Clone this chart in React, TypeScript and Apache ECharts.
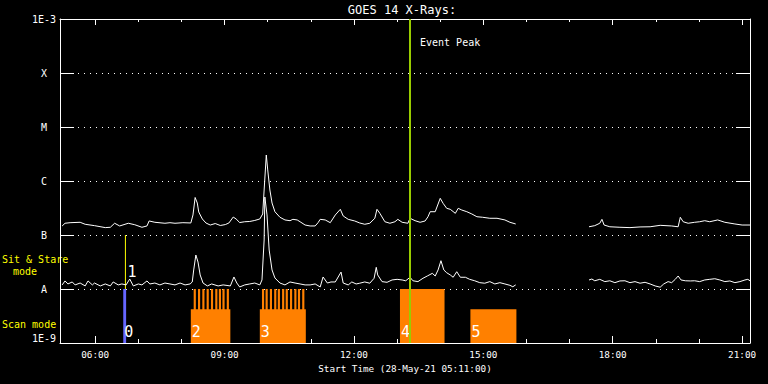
import React, { useEffect, useRef } from 'react';
import * as echarts from 'echarts';

const toH = (s: string): number => {
  const [h, m] = s.split(':').map(Number);
  return h + m / 60;
};

const TITLE = 'GOES 14 X-Rays:';
const X_NAME = 'Start Time (28-May-21 05:11:00)';
const X_MIN = '05:11';
const X_MAX = '21:11';
const MAJOR_HOURS = ['06:00', '09:00', '12:00', '15:00', '18:00', '21:00'];
const MINOR_HOURS = ['07:00', '08:00', '10:00', '11:00', '13:00', '14:00', '16:00', '17:00', '19:00', '20:00'];
const Y_MIN = 1e-9;
const Y_MAX = 1e-3;
const Y_EXPONENTS = [-9, -8, -7, -6, -5, -4, -3];
const Y_TICK_LABELS = ['1E-9', 'A', 'B', 'C', 'M', 'X', '1E-3'];

// GOES long channel (1-8 A)
const LONG_TIMES = ['05:14','05:18','05:25','05:39','05:46','05:59','06:14','06:21','06:27','06:34','06:46','06:55','07:05','07:12','07:15','07:23','07:37','07:44','07:51','08:02','08:13','08:16','08:19','08:22','08:24','08:29','08:34','08:40','08:47','08:54','09:01','09:06','09:12','09:16','09:21','09:28','09:35','09:42','09:49','09:53','09:55','09:58','10:00','10:03','10:06','10:10','10:17','10:24','10:31','10:35','10:41','10:45','10:52','10:59','11:06','11:10','11:13','11:20','11:27','11:34','11:41','11:45','11:52','12:01','12:08','12:15','12:22','12:29','12:32','12:36','12:43','12:50','12:57','13:01','13:07','13:15','13:18','13:25','13:32','13:39','13:43','13:46','13:53','14:00','14:04','14:09','14:14','14:21','14:25','14:30','14:37','14:44','14:51','14:59','15:09','15:19','15:30','15:37','15:45','16:30','17:27','17:35','17:42','17:45','17:48','17:56','18:10','18:24','18:38','18:52','19:06','19:22','19:31','19:34','19:38','19:45','19:54','20:01','20:08','20:15','20:26','20:36','20:50','21:00','21:11'];
const LONG_FLUX = [1.47e-7,1.65e-7,1.69e-7,1.72e-7,1.58e-7,1.49e-7,1.37e-7,1.39e-7,1.65e-7,1.47e-7,1.65e-7,1.55e-7,1.39e-7,1.47e-7,1.82e-7,1.72e-7,1.65e-7,1.69e-7,1.65e-7,1.69e-7,1.67e-7,2.35e-7,4.95e-7,3.91e-7,2.67e-7,1.98e-7,1.67e-7,1.53e-7,1.63e-7,1.50e-7,1.56e-7,1.67e-7,2.15e-7,1.98e-7,1.70e-7,1.76e-7,1.78e-7,1.86e-7,1.98e-7,2.45e-7,6.81e-7,3.03e-6,1.60e-6,6.81e-7,3.91e-7,2.70e-7,2.13e-7,1.90e-7,1.84e-7,1.95e-7,1.90e-7,1.76e-7,1.53e-7,1.47e-7,1.47e-7,1.69e-7,1.95e-7,1.90e-7,1.69e-7,2.35e-7,2.99e-7,2.25e-7,1.95e-7,1.82e-7,1.67e-7,1.58e-7,1.65e-7,2.04e-7,2.99e-7,2.52e-7,1.76e-7,1.65e-7,1.76e-7,1.95e-7,1.72e-7,1.65e-7,2.04e-7,1.84e-7,1.72e-7,1.82e-7,2.18e-7,2.70e-7,2.70e-7,4.78e-7,3.86e-7,3.12e-7,2.99e-7,2.52e-7,3.12e-7,2.90e-7,2.70e-7,2.45e-7,2.18e-7,2.13e-7,2.04e-7,2.04e-7,1.90e-7,1.72e-7,1.60e-7,null,1.42e-7,1.49e-7,1.65e-7,1.95e-7,1.53e-7,1.42e-7,1.39e-7,1.37e-7,1.41e-7,1.42e-7,1.51e-7,1.47e-7,1.42e-7,2.13e-7,1.76e-7,1.65e-7,1.72e-7,1.76e-7,1.84e-7,1.76e-7,1.90e-7,1.72e-7,1.60e-7,1.53e-7,1.53e-7];

// GOES short channel (0.5-4 A)
const SHORT_TIMES = ['05:14','05:18','05:22','05:28','05:32','05:39','05:46','05:50','05:56','05:59','06:07','06:14','06:21','06:25','06:32','06:37','06:43','06:48','06:53','07:00','07:05','07:12','07:16','07:23','07:30','07:37','07:44','07:51','07:58','08:05','08:12','08:15','08:17','08:20','08:23','08:26','08:30','08:36','08:42','08:51','08:58','09:08','09:13','09:17','09:21','09:28','09:35','09:42','09:49','09:52','09:55','09:56','09:59','10:02','10:06','10:10','10:17','10:24','10:31','10:38','10:45','10:52','10:59','11:06','11:13','11:17','11:23','11:28','11:34','11:42','11:45','11:52','11:57','12:03','12:08','12:15','12:22','12:28','12:31','12:33','12:39','12:46','12:53','13:00','13:07','13:12','13:18','13:22','13:29','13:36','13:42','13:49','13:53','13:57','14:01','14:05','14:09','14:14','14:18','14:23','14:28','14:35','14:41','14:48','14:55','15:02','15:09','15:16','15:23','15:30','15:37','15:41','15:45','16:30','17:27','17:31','17:35','17:42','17:49','17:56','18:03','18:10','18:17','18:24','18:31','18:38','18:45','18:52','18:59','19:06','19:11','19:17','19:22','19:27','19:31','19:35','19:41','19:48','19:54','20:01','20:08','20:15','20:22','20:29','20:36','20:43','20:50','20:57','21:04','21:08','21:11'];
const SHORT_FLUX = [1.19e-8,1.41e-8,1.24e-8,1.35e-8,1.19e-8,1.29e-8,1.14e-8,1.41e-8,1.19e-8,1.29e-8,1.14e-8,1.24e-8,1.14e-8,1.35e-8,1.19e-8,1.24e-8,1.19e-8,1.53e-8,1.14e-8,1.24e-8,1.19e-8,1.41e-8,1.24e-8,1.29e-8,1.19e-8,1.29e-8,1.24e-8,1.19e-8,1.29e-8,1.19e-8,1.24e-8,1.35e-8,2.25e-8,4.26e-8,3.16e-8,1.82e-8,1.29e-8,1.14e-8,1.24e-8,1.14e-8,1.19e-8,1.14e-8,1.67e-8,1.29e-8,1.09e-8,1.19e-8,1.24e-8,1.29e-8,1.19e-8,1.47e-8,8.08e-8,5.05e-7,2.35e-7,5.27e-8,2.25e-8,1.60e-8,1.29e-8,1.19e-8,1.35e-8,1.29e-8,1.24e-8,1.19e-8,1.19e-8,1.24e-8,1.09e-8,1.67e-8,1.29e-8,1.35e-8,1.35e-8,2.06e-8,1.29e-8,1.19e-8,1.35e-8,1.24e-8,1.28e-8,1.35e-8,1.28e-8,1.58e-8,2.52e-8,1.82e-8,1.37e-8,1.33e-8,1.47e-8,1.51e-8,1.47e-8,1.42e-8,1.65e-8,1.42e-8,1.37e-8,1.58e-8,1.74e-8,1.95e-8,1.74e-8,2.25e-8,3.34e-8,2.25e-8,2.00e-8,1.82e-8,1.65e-8,2.09e-8,1.65e-8,1.65e-8,1.51e-8,1.42e-8,1.31e-8,1.28e-8,1.37e-8,1.24e-8,1.31e-8,1.24e-8,1.17e-8,1.10e-8,1.19e-8,null,1.47e-8,1.53e-8,1.42e-8,1.51e-8,1.37e-8,1.42e-8,1.31e-8,1.41e-8,1.42e-8,1.31e-8,1.37e-8,1.28e-8,1.33e-8,1.24e-8,1.14e-8,1.08e-8,1.24e-8,1.37e-8,1.31e-8,1.51e-8,1.74e-8,1.47e-8,1.42e-8,1.41e-8,1.42e-8,1.37e-8,1.47e-8,1.51e-8,1.55e-8,1.47e-8,1.37e-8,1.41e-8,1.31e-8,1.37e-8,1.47e-8,1.51e-8,1.42e-8];

// Observation modes
const SCAN_LABELS = ['2', '3', '4', '5'];
const SCAN_START = ['08:13', '09:49', '13:04', '14:42'];
const SCAN_END = ['09:08', '10:53', '14:06', '15:46'];
const SCAN_TOP = [4.2e-9, 4.2e-9, 1e-8, 4.2e-9];
const RASTER_STARTS = ['08:17','08:23','08:29','08:35','08:41','08:47','08:52','08:57','09:03','09:52','09:57','10:03','10:09','10:14','10:20','10:25','10:31','10:37','10:42','10:48'];
const RASTER_MINUTES = 3;
const RASTER_TOP = 1e-8;
const STARE_LABELS = ['0', '1'];
const STARE_START = ['06:39', '06:42'];
const STARE_END = ['06:43', '06:42'];
const STARE_BOTTOM = [1e-9, 1e-8];
const STARE_TOP = [1e-8, 1e-7];
const EVENT_PEAK = '13:18';

const MONO = '"DejaVu Sans Mono", monospace';
const ORANGE = '#ff8000';

export default function App() {
  const ref = useRef<HTMLDivElement>(null);
  useEffect(() => {
    if (!ref.current) return;
    const chart = echarts.init(ref.current, null, { renderer: 'svg' });
    const xMin = toH(X_MIN);
    const xMax = toH(X_MAX);
    const majors = MAJOR_HOURS.map(toH);
    const minors = MINOR_HOURS.map(toH);
    const longData = LONG_TIMES.map((t, i) => [toH(t), LONG_FLUX[i] === null ? '-' : LONG_FLUX[i]]);
    const shortData = SHORT_TIMES.map((t, i) => [toH(t), SHORT_FLUX[i] === null ? '-' : SHORT_FLUX[i]]);
    const scanData = SCAN_START.map((s, i) => [toH(s), toH(SCAN_END[i]), Y_MIN, SCAN_TOP[i], i]);
    const rasterData = RASTER_STARTS.map((s) => [toH(s), toH(s) + RASTER_MINUTES / 60, Y_MIN, RASTER_TOP]);
    const stareData = STARE_START.map((s, i) => [toH(s), toH(STARE_END[i]), STARE_BOTTOM[i], STARE_TOP[i], i]);

    const baseX = { type: 'value', min: xMin, max: xMax, gridIndex: 0, splitLine: { show: false } };
    const labelFor = (v: number) => {
      const e = Math.round(Math.log10(v));
      const i = Y_EXPONENTS.indexOf(e);
      return i >= 0 ? Y_TICK_LABELS[i] : '';
    };
    const option: any = {
      animation: false,
      backgroundColor: '#000',
      grid: { left: 60, right: 18, top: 19, bottom: 41 },
      graphic: [
        { type: 'text', x: 402, y: 10, style: { text: TITLE, fill: '#fff', font: `12px ${MONO}`, align: 'center', verticalAlign: 'middle' } },
        { type: 'text', x: 420, y: 42.5, style: { text: 'Event Peak', fill: '#fff', font: `10px ${MONO}`, align: 'left', verticalAlign: 'middle' } },
        { type: 'text', x: 2, y: 259, style: { text: 'Sit & Stare', fill: '#ffff00', font: `10px ${MONO}`, align: 'left', verticalAlign: 'middle' } },
        { type: 'text', x: 13, y: 271, style: { text: 'mode', fill: '#ffff00', font: `10px ${MONO}`, align: 'left', verticalAlign: 'middle' } },
        { type: 'text', x: 2, y: 324, style: { text: 'Scan mode', fill: '#ffff00', font: `10px ${MONO}`, align: 'left', verticalAlign: 'middle' } },
      ],
      xAxis: [
        {
          ...baseX, position: 'bottom',
          axisLine: { show: true, lineStyle: { color: '#fff', width: 1 } },
          axisTick: { show: true, inside: true, length: 7, customValues: majors, lineStyle: { color: '#fff' } },
          axisLabel: { show: true, customValues: majors, color: '#fff', fontFamily: MONO, fontSize: 9.3, margin: 7,
            formatter: (v: number) => `${String(Math.round(v)).padStart(2, '0')}:00` },
          name: X_NAME, nameLocation: 'middle', nameGap: 19,
          nameTextStyle: { color: '#fff', fontFamily: MONO, fontSize: 9.3 },
        },
        {
          ...baseX, position: 'bottom',
          axisLine: { show: false },
          axisTick: { show: true, inside: true, length: 4, customValues: minors, lineStyle: { color: '#fff' } },
          axisLabel: { show: false },
        },
        {
          ...baseX, position: 'top',
          axisLine: { show: true, lineStyle: { color: '#fff', width: 1 } },
          axisTick: { show: true, inside: true, length: 6, customValues: majors, lineStyle: { color: '#fff' } },
          axisLabel: { show: false },
        },
        {
          ...baseX, position: 'top',
          axisLine: { show: false },
          axisTick: { show: true, inside: true, length: 3, customValues: minors, lineStyle: { color: '#fff' } },
          axisLabel: { show: false },
        },
      ],
      yAxis: [
        {
          type: 'log', logBase: 10, min: Y_MIN, max: Y_MAX, position: 'left',
          axisLine: { show: true, lineStyle: { color: '#fff', width: 1 } },
          axisTick: { show: true, inside: true, length: 14, lineStyle: { color: '#fff' } },
          minorTick: { show: false },
          axisLabel: { show: true, color: '#fff', fontFamily: MONO, fontSize: 10, align: 'center', margin: 16,
            verticalAlignMinLabel: 'bottom', verticalAlignMaxLabel: 'top', formatter: labelFor },
          splitLine: { show: true, lineStyle: { color: '#fff', width: 1, type: [1, 5] } },
        },
        {
          type: 'log', logBase: 10, min: Y_MIN, max: Y_MAX, position: 'right',
          axisLine: { show: true, lineStyle: { color: '#fff', width: 1 } },
          axisTick: { show: true, inside: true, length: 14, lineStyle: { color: '#fff' } },
          axisLabel: { show: false },
          splitLine: { show: false },
        },
      ],
      series: [
        {
          type: 'custom', name: 'scan', xAxisIndex: 0, yAxisIndex: 0, z: 1,
          data: scanData, encode: { x: [0, 1], y: [2, 3] },
          renderItem: (params: any, api: any) => {
            const p0 = api.coord([api.value(0), api.value(3)]);
            const p1 = api.coord([api.value(1), api.value(2)]);
            const idx = api.value(4);
            return {
              type: 'group',
              children: [
                { type: 'rect', shape: { x: p0[0], y: p0[1], width: p1[0] - p0[0], height: p1[1] - p0[1] }, style: { fill: ORANGE } },
                { type: 'text', z2: 10, x: p0[0] + 1, y: p1[1] - 4, style: { text: SCAN_LABELS[idx], fill: '#fff', font: `15px ${MONO}`, align: 'left', verticalAlign: 'bottom' } },
              ],
            };
          },
        },
        {
          type: 'custom', name: 'raster', xAxisIndex: 0, yAxisIndex: 0, z: 1,
          data: rasterData, encode: { x: [0, 1], y: [2, 3] },
          renderItem: (params: any, api: any) => {
            const p0 = api.coord([api.value(0), api.value(3)]);
            const p1 = api.coord([api.value(1), api.value(2)]);
            return { type: 'rect', shape: { x: p0[0], y: p0[1], width: p1[0] - p0[0], height: p1[1] - p0[1] }, style: { fill: ORANGE } };
          },
        },
        {
          type: 'custom', name: 'stare', xAxisIndex: 0, yAxisIndex: 0, z: 2,
          data: stareData, encode: { x: [0, 1], y: [2, 3] },
          renderItem: (params: any, api: any) => {
            const p0 = api.coord([api.value(0), api.value(3)]);
            const p1 = api.coord([api.value(1), api.value(2)]);
            const idx = api.value(4);
            if (idx === 0) {
              return {
                type: 'group',
                children: [
                  { type: 'rect', shape: { x: p0[0], y: p0[1], width: p1[0] - p0[0], height: p1[1] - p0[1] }, style: { fill: '#6666ff' } },
                  { type: 'text', x: p0[0] + 1, y: p1[1] - 4, style: { text: STARE_LABELS[idx], fill: '#fff', font: `15px ${MONO}`, align: 'left', verticalAlign: 'bottom' } },
                ],
              };
            }
            return {
              type: 'group',
              children: [
                { type: 'line', shape: { x1: p0[0], y1: p0[1], x2: p0[0], y2: p1[1] }, style: { stroke: '#ffff00', lineWidth: 1 } },
                { type: 'text', x: p0[0] + 2, y: p1[1] - 10, style: { text: STARE_LABELS[idx], fill: '#fff', font: `15px ${MONO}`, align: 'left', verticalAlign: 'bottom' } },
              ],
            };
          },
        },
        {
          type: 'line', name: 'short', xAxisIndex: 0, yAxisIndex: 0, z: 3,
          data: shortData, showSymbol: false, connectNulls: false,
          lineStyle: { color: '#fff', width: 1 },
        },
        {
          type: 'line', name: 'long', xAxisIndex: 0, yAxisIndex: 0, z: 3,
          data: longData, showSymbol: false, connectNulls: false,
          lineStyle: { color: '#fff', width: 1 },
          markLine: {
            silent: true, symbol: ['none', 'none'], label: { show: false },
            lineStyle: { color: '#99cc00', width: 2, type: 'solid' },
            data: [{ xAxis: toH(EVENT_PEAK) }],
          },
        },
      ],
    };
    chart.setOption(option);
    return () => chart.dispose();
  }, []);
  return <div ref={ref} style={{ position: 'fixed', left: 0, top: 0, width: 768, height: 384 }} />;
}
